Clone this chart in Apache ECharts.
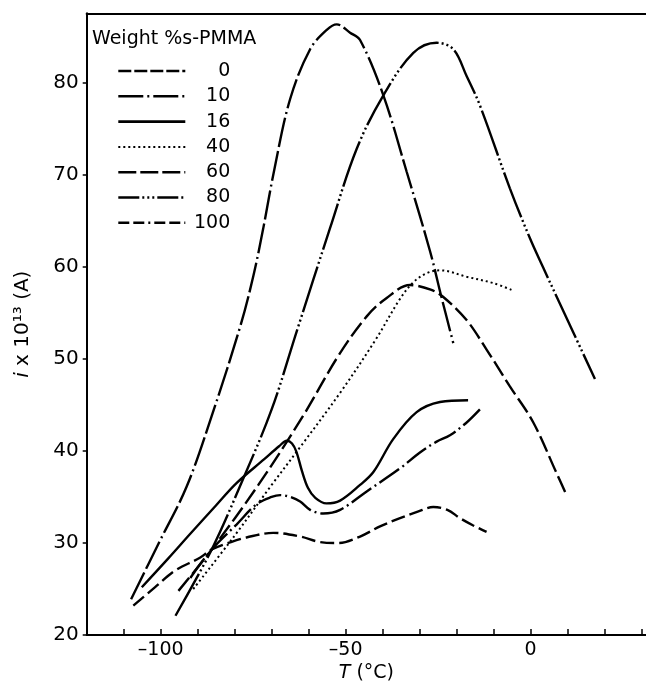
<!DOCTYPE html>
<html>
<head>
<meta charset="utf-8">
<script src="https://cdn.jsdelivr.net/npm/echarts@6/dist/echarts.min.js"></script>
<style>html,body{margin:0;padding:0;background:#fff}#c{width:646px;height:688px}</style>
</head>
<body>
<div id="c"></div>
<script>
// Series names (weight % s-PMMA)
const seriesNames = ['0', '10', '16', '40', '60', '80', '100'];

// Temperature (°C) and current (i x 10^13 A)
const T_0 = [-107.4, -101.5, -96.1, -89.4, -86.2, -81, -76.8, -69.6, -62.3, -56.9, -52, -46.1, -40.7, -35.3, -30.5, -26.3, -22.5, -19.1, -15.5, -11.9];
const I_0 = [23.2, 25.2, 27.0, 28.4, 29.3, 30.1, 30.6, 31.1, 30.7, 30.1, 30.0, 30.7, 31.8, 32.7, 33.4, 33.9, 33.6, 32.7, 31.9, 31.2];

const T_10 = [-92, -86.2, -79.5, -74.1, -70, -67.7, -65, -62.3, -59.6, -56.1, -51.5, -44.3, -35.3, -30, -25.4, -21.8, -17.5, -13.7];
const I_10 = [26.2, 29.3, 32.0, 34.2, 35.0, 35.2, 35.0, 34.5, 33.6, 33.2, 33.6, 35.6, 38.1, 39.8, 41.0, 41.7, 43.0, 44.5];

const T_16 = [-105.1, -98, -92, -85, -79.5, -72, -68, -65.9, -64.5, -63.3, -61.8, -60.2, -58.2, -55.2, -51.5, -46.1, -42.5, -37.1, -30.8, -24.5, -16.9];
const I_16 = [25.2, 28.3, 31.0, 34.1, 36.5, 39.1, 40.5, 41.1, 40.8, 39.9, 37.8, 36.0, 34.9, 34.3, 34.6, 36.3, 37.7, 41.3, 44.2, 45.3, 45.5];

const T_40 = [-91.2, -80, -70, -62.3, -51.5, -42, -35.3, -31.7, -28, -24.5, -17.3, -10, -4.7];
const I_40 = [25.0, 30.8, 36.3, 40.4, 46.3, 52.0, 56.5, 58.3, 59.3, 59.6, 58.9, 58.2, 57.4];

const T_60 = [-95.2, -86.2, -73.6, -61.5, -52, -44.3, -38.9, -32.6, -27, -23.6, -17.3, -11.9, -5.6, 0.7, 7, 9.7];
const I_60 = [24.8, 29.3, 36.3, 43.8, 50.3, 54.6, 56.6, 58.0, 57.5, 56.7, 54.2, 51.0, 47.0, 43.1, 37.6, 35.2];

const T_80 = [-96, -86.2, -78.1, -70, -63.2, -54.2, -47, -39.8, -31.7, -25.4, -20.9, -17.3, -13.7, -5.6, -0.2, 3.4, 7.9, 17.4];
const I_80 = [22.1, 29.3, 36.6, 44.5, 53.0, 64.2, 72.8, 78.6, 83.2, 84.3, 83.6, 80.7, 77.5, 68.5, 63.1, 59.9, 56.0, 47.8];

const T_100 = [-108, -100.5, -93, -86.2, -78.5, -75, -72.3, -69.3, -65, -59.6, -55.1, -52.4, -48.8, -46.1, -39.8, -33.5, -27.2, -24.1, -20.9];
const I_100 = [23.9, 30.0, 36.1, 43.8, 53.5, 58.9, 64.1, 70.5, 78.2, 83.6, 85.7, 86.3, 85.4, 84.6, 78.6, 70.3, 61.7, 56.7, 51.7];

// Axis ticks / labels
const xTicks = [-110, -100, -90, -80, -70, -60, -50, -40, -30, -20, -10, 0, 10, 20, 30];
const xLabels = [-100, -50, 0];
const yTicks = [20, 30, 40, 50, 60, 70, 80];

const allT = [T_0, T_10, T_16, T_40, T_60, T_80, T_100];
const allI = [I_0, I_10, I_16, I_40, I_60, I_80, I_100];
// dash patterns on the curves
const curveDash = [
  [14, 5],
  [24, 4, 2, 4],
  'solid',
  [2, 3],
  [17, 5],
  [48, 3, 2, 3, 2, 3, 2, 3],
  [30, 4, 30, 4, 2, 4]
];
// dash patterns in the legend samples
const legendDash = [
  [13, 3],
  [25, 4, 2, 4],
  'solid',
  [2, 3],
  [18, 4],
  [21, 3, 2, 3, 2, 3, 2, 3],
  [11, 4, 11, 4, 2, 4]
];

const FONT = 'DejaVu Sans';
const zip = (a, b) => a.map((v, k) => [v, b[k]]);

const chart = echarts.init(document.getElementById('c'), null, {renderer: 'canvas'});
chart.setOption({
  backgroundColor: '#fff',
  animation: false,
  title: {
    text: 'Weight %s-PMMA',
    left: 92, top: 30, padding: 0,
    textStyle: {fontFamily: FONT, fontSize: 19, fontWeight: 'normal', color: '#000'}
  },
  legend: {
    orient: 'vertical',
    left: 117, top: 61, padding: 0,
    itemWidth: 67, itemHeight: 20, itemGap: 5.3,
    data: seriesNames.map((n, k) => ({
      name: n,
      lineStyle: {color: '#000', width: k === 3 ? 2 : 2.6, type: legendDash[k], cap: 'butt'}
    })),
    itemStyle: {color: 'rgba(0,0,0,0)', borderWidth: 0, opacity: 0},
    formatter: n => '{r|' + n + '}',
    textStyle: {
      fontFamily: FONT, fontSize: 19, color: '#000', lineHeight: 20,
      rich: {r: {width: 40, align: 'right', fontFamily: FONT, fontSize: 19, lineHeight: 20, color: '#000'}}
    }
  },
  grid: {left: 86.7, right: 0, top: 13.3, bottom: 46.3, containLabel: false},
  xAxis: [{
    type: 'value', min: -120, max: 31.2,
    name: '{i|T} (°C)', nameLocation: 'middle', nameGap: 27,
    nameTextStyle: {fontFamily: FONT, fontSize: 19, color: '#000',
      rich: {i: {fontStyle: 'italic', fontFamily: FONT, fontSize: 19, color: '#000'}}},
    axisLine: {show: true, onZero: false, lineStyle: {color: '#000', width: 2}},
    axisTick: {show: true, inside: true, length: 6, customValues: xTicks, lineStyle: {color: '#000', width: 1.5}},
    axisLabel: {customValues: xLabels, margin: 5, fontFamily: FONT, fontSize: 19, color: '#000',
      formatter: v => (v < 0 ? '–' + Math.abs(v) : String(v))},
    splitLine: {show: false}
  }, {
    type: 'value', position: 'top', min: -120, max: 31.2,
    axisLine: {show: true, lineStyle: {color: '#000', width: 2}},
    axisTick: {show: false}, axisLabel: {show: false}, splitLine: {show: false}
  }],
  yAxis: {
    type: 'value', min: 20, max: 87.5,
    name: '{i|i} x 10¹³ (A)', nameLocation: 'middle', nameGap: 54, nameRotate: 90,
    nameTextStyle: {fontFamily: FONT, fontSize: 20, color: '#000',
      rich: {i: {fontStyle: 'italic', fontFamily: FONT, fontSize: 20, color: '#000'}}},
    axisLine: {show: true, onZero: false, lineStyle: {color: '#000', width: 2}},
    axisTick: {show: true, inside: false, length: 4, customValues: yTicks, lineStyle: {color: '#000', width: 1.5}},
    axisLabel: {customValues: yTicks, margin: 8, fontFamily: FONT, fontSize: 20, color: '#000'},
    splitLine: {show: false}
  },
  series: seriesNames.map((n, k) => ({
    name: n,
    type: 'line',
    data: zip(allT[k], allI[k]),
    symbol: 'none', showSymbol: false,
    smooth: 0.35,
    lineStyle: {color: '#000', width: k === 3 ? 2 : 2.4, type: curveDash[k], cap: 'butt'},
    itemStyle: {color: '#000'}
  }))
});
</script>
</body>
</html>
